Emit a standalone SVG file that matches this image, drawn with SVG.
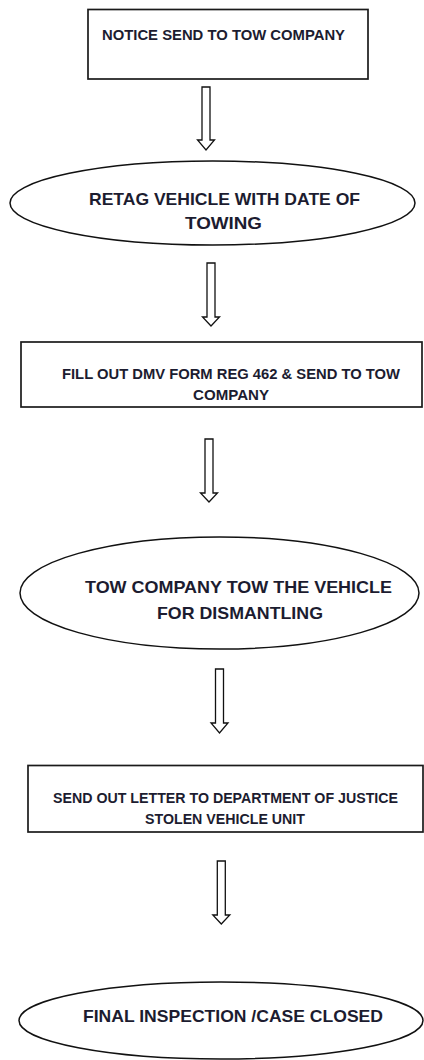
<svg xmlns="http://www.w3.org/2000/svg" width="424" height="1060" viewBox="0 0 424 1060">
<style>
.box{fill:#fff;stroke:#1a1a1a;stroke-width:1.7}
.ell{fill:#fff;stroke:#111;stroke-width:1.5}
.arr{fill:#fff;stroke:#111;stroke-width:1.3;stroke-linejoin:miter}
.t{font-family:"Liberation Sans",Arial,sans-serif;font-weight:bold;fill:#1c1c30;text-anchor:middle}
.s{font-size:14.5px}
.l{font-size:17px}
</style>
<rect width="424" height="1060" fill="#fff"/>
<g id="connectors">
<path class="arr" d="M202,87 H210 V140 H214.5 L206,150 L197.5,140 H202 Z"/>
<path class="arr" d="M207,263 H215 V317 H219.5 L211,326 L202.5,317 H207 Z"/>
<path class="arr" d="M205,439 H213 V493 H217.5 L209,502 L200.5,493 H205 Z"/>
<path class="arr" d="M215.5,669 H223.5 V723 H228 L219.5,733 L211,723 H215.5 Z"/>
<path class="arr" d="M217.3,861 H225.3 V915 H229.8 L221.3,924 L212.8,915 H217.3 Z"/>
</g>
<g id="node1">
<rect class="box" x="88" y="9.5" width="280" height="69.5"/>
<text class="t s" x="223.5" y="39.5" textLength="243" lengthAdjust="spacingAndGlyphs">NOTICE SEND TO TOW COMPANY</text>
</g>
<g id="node2">
<ellipse class="ell" cx="212.5" cy="203" rx="202.5" ry="42"/>
<text class="t l" x="224.5" y="204.5" textLength="271" lengthAdjust="spacingAndGlyphs">RETAG VEHICLE WITH DATE OF</text>
<text class="t l" x="223.5" y="229" textLength="77" lengthAdjust="spacingAndGlyphs">TOWING</text>
</g>
<g id="node3">
<rect class="box" x="21" y="342" width="401" height="65"/>
<text class="t s" x="231" y="379" textLength="338" lengthAdjust="spacingAndGlyphs">FILL OUT DMV FORM REG 462 &amp; SEND TO TOW</text>
<text class="t s" x="231" y="400" textLength="76" lengthAdjust="spacingAndGlyphs">COMPANY</text>
</g>
<g id="node4">
<ellipse class="ell" cx="219.5" cy="593" rx="199.5" ry="56"/>
<text class="t l" x="238.5" y="593" textLength="307" lengthAdjust="spacingAndGlyphs">TOW COMPANY TOW THE VEHICLE</text>
<text class="t l" x="240" y="619" textLength="166" lengthAdjust="spacingAndGlyphs">FOR DISMANTLING</text>
</g>
<g id="node5">
<rect class="box" x="28" y="765.5" width="395" height="66.5"/>
<text class="t s" x="225.5" y="803" textLength="345" lengthAdjust="spacingAndGlyphs">SEND OUT LETTER TO DEPARTMENT OF JUSTICE</text>
<text class="t s" x="225" y="824" textLength="160" lengthAdjust="spacingAndGlyphs">STOLEN VEHICLE UNIT</text>
</g>
<g id="node6">
<ellipse class="ell" cx="221" cy="1020.5" rx="202" ry="38.5"/>
<text class="t l" x="233" y="1022" textLength="300" lengthAdjust="spacingAndGlyphs">FINAL INSPECTION /CASE CLOSED</text>
</g>
</svg>
